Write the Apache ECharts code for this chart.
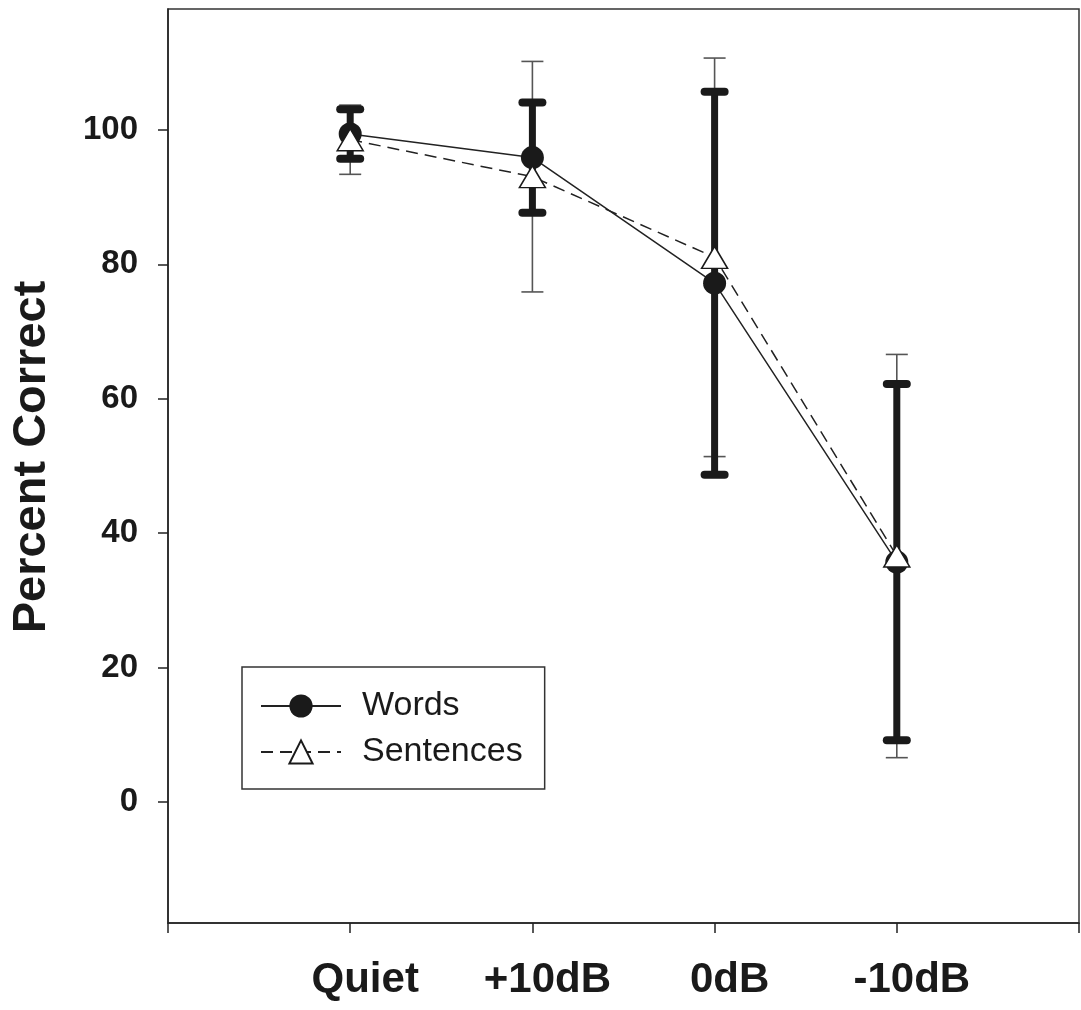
<!DOCTYPE html>
<html>
<head>
<meta charset="utf-8">
<script src="https://cdn.jsdelivr.net/npm/echarts@6/dist/echarts.min.js"></script>
<style>
html,body{margin:0;padding:0;background:#fff;}
#chart{width:1081px;height:1010px;}
</style>
</head>
<body>
<div id="chart"></div>
<script>
// ---- data ----
const categories = ['Quiet', '+10dB', '0dB', '-10dB'];
const xPositions = [1, 2, 3, 4];
const wordsMean = [99.4, 95.9, 77.2, 35.7];
const wordsHalfBar = [3.7, 8.2, 28.5, 26.5];
const sentencesMean = [98.55, 93.05, 81.05, 36.6];
const sentencesHalfBar = [5.15, 17.15, 29.65, 30.0];
const yTickValues = [0, 20, 40, 60, 80, 100];
const seriesNames = ['Words', 'Sentences'];

const FONT = '"Liberation Sans", Arial, Helvetica, sans-serif';
const INK = '#1a1a1a';

function barData(mean, half) {
  return mean.map((m, i) => [xPositions[i], m - half[i], m + half[i]]);
}
function pointData(mean) {
  return mean.map((m, i) => [xPositions[i], m]);
}
function errorBarRenderer(stemWidth, capHalf, capWidth, color, roundCap) {
  return function (params, api) {
    const x = api.value(0);
    const lo = api.coord([x, api.value(1)]);
    const hi = api.coord([x, api.value(2)]);
    const cap = roundCap ? 'round' : 'butt';
    return {
      type: 'group',
      children: [
        { type: 'line', shape: { x1: lo[0], y1: lo[1], x2: hi[0], y2: hi[1] },
          style: { stroke: color, lineWidth: stemWidth } },
        { type: 'line', shape: { x1: hi[0] - capHalf, y1: hi[1], x2: hi[0] + capHalf, y2: hi[1] },
          style: { stroke: color, lineWidth: capWidth, lineCap: cap } },
        { type: 'line', shape: { x1: lo[0] - capHalf, y1: lo[1], x2: lo[0] + capHalf, y2: lo[1] },
          style: { stroke: color, lineWidth: capWidth, lineCap: cap } }
      ]
    };
  };
}

const chart = echarts.init(document.getElementById('chart'), null, { renderer: 'canvas' });
chart.setOption({
  animation: false,
  backgroundColor: '#fff',
  grid: { left: 168, right: 2, top: 9, bottom: 87, show: true, borderColor: '#333', borderWidth: 1.5,
          containLabel: false, outerBoundsMode: 'none' },
  legend: {
    data: seriesNames,
    orient: 'vertical',
    left: 242, top: 667,
    padding: [22, 22, 20, 18],
    itemGap: 12,
    itemWidth: 80, itemHeight: 29,
    borderColor: '#333', borderWidth: 1.5,
    textStyle: { fontFamily: FONT, fontSize: 34, color: INK, lineHeight: 29, padding: [0, 0, 0, 16] }
  },
  xAxis: {
    type: 'value', min: 0, max: 5, interval: 1,
    axisLine: { onZero: false, lineStyle: { color: '#222', width: 1.5 } },
    axisTick: { length: 10, lineStyle: { color: '#222', width: 1.5 } },
    splitLine: { show: false },
    axisLabel: {
      formatter: v => (v >= 1 && v <= categories.length) ? categories[v - 1] : '',
      fontFamily: FONT, fontSize: 42, fontWeight: 'bold', color: INK,
      margin: 36, padding: [0, 0, 0, 30]
    }
  },
  yAxis: {
    type: 'value', min: -18, max: 118,
    axisLine: { onZero: false, lineStyle: { color: '#222', width: 1.5 } },
    axisTick: { length: 10, customValues: yTickValues, lineStyle: { color: '#222', width: 1.5 } },
    splitLine: { show: false },
    axisLabel: {
      customValues: yTickValues,
      fontFamily: FONT, fontSize: 33, fontWeight: 'bold', color: INK, margin: 30
    },
    name: 'Percent Correct', nameLocation: 'middle', nameGap: 112,
    nameTextStyle: { fontFamily: FONT, fontSize: 47, fontWeight: 'bold', color: INK, padding: [0, 0, 0, 18] }
  },
  series: [
    {
      name: 'Sentences SD', type: 'custom',
      renderItem: errorBarRenderer(1.6, 11, 1.6, '#555', false),
      encode: { x: 0, y: [1, 2] },
      data: barData(sentencesMean, sentencesHalfBar)
    },
    {
      name: 'Words SD', type: 'custom',
      renderItem: errorBarRenderer(7, 10, 8, INK, true),
      encode: { x: 0, y: [1, 2] },
      data: barData(wordsMean, wordsHalfBar)
    },
    {
      name: seriesNames[0], type: 'line',
      data: pointData(wordsMean),
      symbol: 'circle', symbolSize: 23,
      itemStyle: { color: INK },
      lineStyle: { color: '#222', width: 1.5 }
    },
    {
      name: seriesNames[1], type: 'line',
      data: pointData(sentencesMean),
      symbol: 'triangle', symbolSize: [26, 22],
      itemStyle: { color: '#fff', borderColor: INK, borderWidth: 1.5 },
      lineStyle: { color: '#222', width: 1.5, type: [12, 7] }
    }
  ]
});
</script>
</body>
</html>
